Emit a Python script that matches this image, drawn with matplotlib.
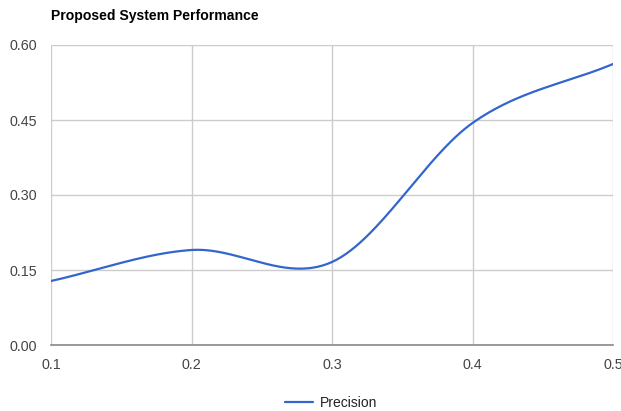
import numpy as np
import matplotlib.pyplot as plt

# threshold vs. precision
thresholds = [0.1, 0.2, 0.3, 0.4, 0.5]
precision = [0.128, 0.190, 0.166, 0.444, 0.562]

x_ticks = [0.1, 0.2, 0.3, 0.4, 0.5]
x_labels = ["0.1", "0.2", "0.3", "0.4", "0.5"]
y_ticks = [0.0, 0.15, 0.30, 0.45, 0.60]
y_labels = ["0.00", "0.15", "0.30", "0.45", "0.60"]


def smooth_curve(xs, ys, steps=60):
    # cubic Hermite pieces with centred tangents (Catmull-Rom style)
    xs = np.asarray(xs, float)
    ys = np.asarray(ys, float)
    n = len(xs)
    m = np.zeros(n)
    for i in range(n):
        if i == 0:
            m[i] = (ys[1] - ys[0]) / (xs[1] - xs[0])
        elif i == n - 1:
            m[i] = (ys[-1] - ys[-2]) / (xs[-1] - xs[-2])
        else:
            m[i] = (ys[i + 1] - ys[i - 1]) / (xs[i + 1] - xs[i - 1])
    out_x, out_y = [], []
    for i in range(n - 1):
        h = xs[i + 1] - xs[i]
        t = np.linspace(0, 1, steps, endpoint=(i == n - 2))
        h00 = 2 * t**3 - 3 * t**2 + 1
        h10 = t**3 - 2 * t**2 + t
        h01 = -2 * t**3 + 3 * t**2
        h11 = t**3 - t**2
        out_x.append(xs[i] + t * h)
        out_y.append(h00 * ys[i] + h10 * h * m[i] + h01 * ys[i + 1] + h11 * h * m[i + 1])
    return np.concatenate(out_x), np.concatenate(out_y)


plt.rcParams["font.family"] = ["Liberation Sans", "DejaVu Sans"]

fig = plt.figure(figsize=(6.21, 4.11), dpi=100)
ax = fig.add_axes([51 / 621, 1 - 345 / 411, 562 / 621, 300 / 411])

sx, sy = smooth_curve(thresholds, precision)
line, = ax.plot(sx, sy, color="#3366cc", lw=1.6, solid_capstyle="round", label="Precision")

ax.set_xlim(0.1, 0.5)
ax.set_ylim(0, 0.6)
ax.set_xticks(x_ticks)
ax.set_xticklabels(x_labels)
ax.set_yticks(y_ticks)
ax.set_yticklabels(y_labels)
ax.grid(True, color="#cccccc", lw=1)
ax.set_axisbelow(True)
for side in ["top", "right", "left"]:
    ax.spines[side].set_visible(False)
ax.spines["bottom"].set_color("#888888")
ax.spines["bottom"].set_linewidth(1.2)
ax.tick_params(length=0, labelsize=10.3, labelcolor="#444444")
ax.tick_params(axis="y", pad=10)
ax.tick_params(axis="x", pad=9)
for lbl in ax.get_xticklabels():
    lbl.set_clip_on(False)

fig.text(51 / 621, 1 - 16 / 411, "Proposed System Performance", fontsize=10.1,
         fontweight="bold", color="#000000", va="center", ha="left")

fig.legend(handles=[line], loc="center", bbox_to_anchor=(331.5 / 621, 1 - 403 / 411),
           frameon=False, fontsize=10, handlelength=2.0, handletextpad=0.5,
           labelcolor="#222222")

fig.savefig("out.png", dpi=100)
